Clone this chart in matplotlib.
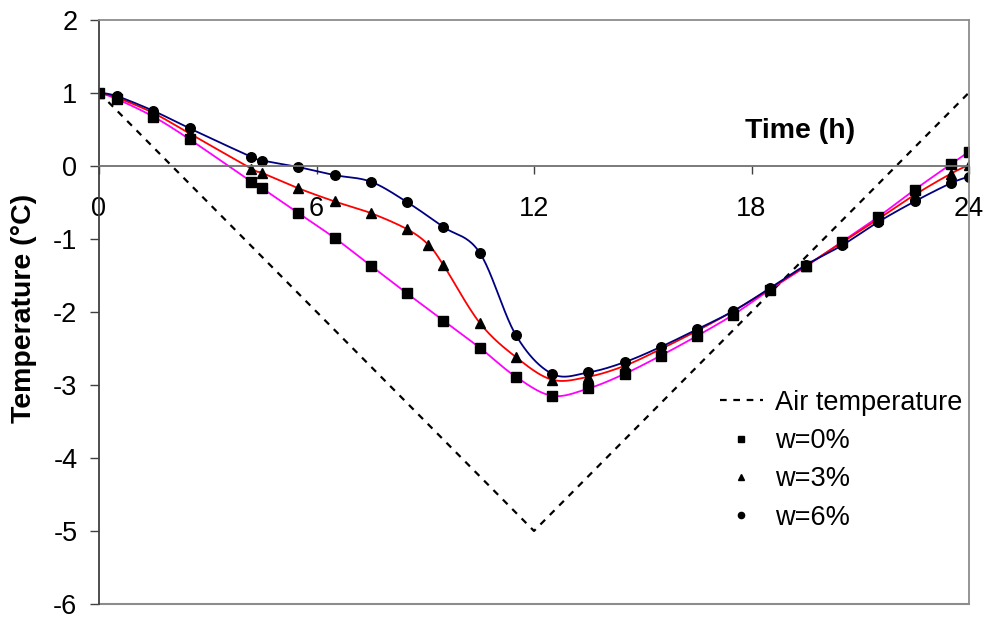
import numpy as np
import matplotlib
matplotlib.use("Agg")
import matplotlib.pyplot as plt

plt.rcParams["font.family"] = ["Liberation Sans", "DejaVu Sans"]

# data
air_x = [0, 12, 24]
air_y = [1, -5, 1]

x_w0 = [0, 0.5, 1.5, 2.5, 4.2, 4.5, 5.5, 6.5, 7.5, 8.5, 9.5, 10.5, 11.5, 12.5,
        13.5, 14.5, 15.5, 16.5, 17.5, 18.5, 19.5, 20.5, 21.5, 22.5, 23.5, 24]
y_w0 = [1.0, 0.91, 0.67, 0.36, -0.22, -0.31, -0.65, -0.99, -1.37, -1.75, -2.12,
        -2.49, -2.89, -3.15, -3.05, -2.85, -2.60, -2.33, -2.04, -1.70, -1.38,
        -1.04, -0.70, -0.33, 0.02, 0.19]

x_w3 = [0, 0.5, 1.5, 2.5, 4.2, 4.5, 5.5, 6.5, 7.5, 8.5, 9.08, 9.5, 10.5, 11.5,
        12.5, 13.5, 14.5, 15.5, 16.5, 17.5, 18.5, 19.5, 20.5, 21.5, 22.5, 23.5, 24]
y_w3 = [1.0, 0.93, 0.72, 0.44, -0.04, -0.10, -0.31, -0.49, -0.65, -0.87, -1.08,
        -1.36, -2.15, -2.62, -2.93, -2.89, -2.74, -2.51, -2.26, -1.99, -1.69,
        -1.37, -1.05, -0.73, -0.40, -0.11, 0.01]

x_w6 = [0, 0.5, 1.5, 2.5, 4.2, 4.5, 5.5, 6.5, 7.5, 8.5, 9.5, 10.5, 11.5, 12.5,
        13.5, 14.5, 15.5, 16.5, 17.5, 18.5, 19.5, 20.5, 21.5, 22.5, 23.5, 24]
y_w6 = [1.0, 0.95, 0.75, 0.51, 0.12, 0.07, -0.02, -0.13, -0.22, -0.50, -0.84,
        -1.19, -2.32, -2.85, -2.83, -2.69, -2.48, -2.24, -1.99, -1.68, -1.36,
        -1.09, -0.77, -0.49, -0.24, -0.15]

xticks = [0, 6, 12, 18, 24]
yticks = [-6, -5, -4, -3, -2, -1, 0, 1, 2]


def smooth(x, y, n=24):
    # excel style smoothed line (cubic bezier, tension 1/6)
    p = np.column_stack([x, y]).astype(float)
    p = np.vstack([p[0], p, p[-1]])
    t = np.linspace(0, 1, n)[:, None]
    out = []
    for i in range(1, len(p) - 2):
        a, b = p[i], p[i + 1]
        c1 = a + (p[i + 1] - p[i - 1]) / 6
        c2 = b - (p[i + 2] - p[i]) / 6
        seg = (1 - t) ** 3 * a + 3 * (1 - t) ** 2 * t * c1 + 3 * (1 - t) * t ** 2 * c2 + t ** 3 * b
        out.append(seg)
    out = np.vstack(out)
    return out[:, 0], out[:, 1]


fig = plt.figure(figsize=(9.85, 6.19), dpi=100)
ax = fig.add_axes([99 / 985, 15 / 619, 870 / 985, 584.5 / 619])

ax.plot(air_x, air_y, color="black", lw=1.6, ls=(0, (3, 3)), label="Air temperature")

for xs, ys, col in [(x_w0, y_w0, "#FF00FF"), (x_w3, y_w3, "#FF0000"), (x_w6, y_w6, "#000080")]:
    sx, sy = smooth(xs, ys)
    ax.plot(sx, sy, color=col, lw=1.3)

ax.plot(x_w0, y_w0, ls="none", marker="s", ms=6.6, color="black", label="w=0%")
ax.plot(x_w3, y_w3, ls="none", marker="^", ms=7.2, color="black", label="w=3%")
ax.plot(x_w6, y_w6, ls="none", marker="o", ms=6.9, color="black", label="w=6%")

ax.set_xlim(0, 24)
ax.set_ylim(-6, 2)
ax.set_xticks(xticks)
ax.set_yticks(yticks)
ax.set_yticklabels([str(v) for v in yticks])

frame = "#8c8c8c"
ax.spines["top"].set_color(frame)
ax.spines["right"].set_color(frame)
ax.spines["left"].set_color("#404040")
ax.spines["bottom"].set_position(("data", 0))
ax.spines["bottom"].set_color("#707070")
for s in ax.spines.values():
    s.set_linewidth(1.3)
ax.plot([0, 1], [0, 0], transform=ax.transAxes, color=frame, lw=1.5, clip_on=False)

ax.tick_params(axis="x", direction="out", length=6, width=1, color="#404040",
               labelsize=19.5, pad=16)
ax.tick_params(axis="y", direction="out", length=6.5, width=1, color="#404040",
               labelsize=19.5, pad=9)

ax.text(19.34, 0.47, "Time (h)", fontsize=20.5, fontweight="bold", ha="center", va="center")
fig.text(24 / 985, 1 - 308 / 619, "Temperature (°C)", fontsize=20.5, fontweight="bold",
         rotation=90, ha="center", va="center")

ax.legend(loc="upper left", bbox_to_anchor=(706 / 985, 1 - 376 / 619),
          bbox_transform=fig.transFigure, frameon=False, fontsize=19.5,
          handlelength=1.6, handletextpad=0.45, borderpad=0, labelspacing=0.46,
          markerscale=0.65)

fig.savefig("out.png", dpi=100)
